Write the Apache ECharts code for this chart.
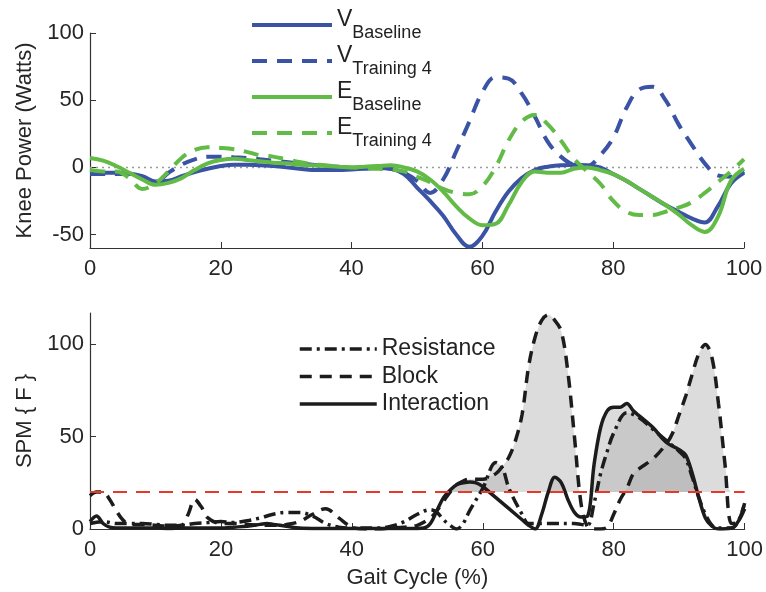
<!DOCTYPE html>
<html><head><meta charset="utf-8">
<script src="https://cdn.jsdelivr.net/npm/echarts@6/dist/echarts.min.js"></script>
<style>html,body{margin:0;padding:0;background:#fff}#c{width:766px;height:592px}</style>
</head><body><div id="c"></div>
<script>
// ---------- data ----------
const gTop = [0,2,4,6,8,10,12,14,16,18,20,22,24,26,28,30,32,34,36,38,40,42,44,46,48,50,52,54,56,58,60,62,64,66,68,70,72,74,76,78,80,82,84,86,88,90,92,94,96,98,100];
const vBaseline = [-4,-4,-4,-4.5,-6.5,-10.5,-10,-6.5,-3.5,-1,1,2,2,1.5,1,0,-1,-2,-2,-2,-1.5,-1,-0.5,-1,-5,-15,-25,-36,-50,-59,-51,-33,-18,-8,-2,0.5,1.5,2,1.5,0,-5,-10,-16,-22,-28,-33,-38,-41,-29,-12,-4];
const vTraining = [-5,-5,-5,-5,-7,-11,-4,2,6,8,8,7.5,7,6,5,4,3,2,1,0.5,0,0,0,-1,-4,-10,-19,-9,12,34,56,67,66,55,38,19,8,2,1,9,22,44,58,60,50,32,17,3,-6,-7,-3];
const eBaseline = [7,5,1,-4,-9,-13,-11.5,-8,-2,3,5.5,6.5,5.5,4.5,3.5,3,2,1.5,1,0.5,0,0.5,1,1.5,0,-3,-9,-18,-29,-38,-43,-42,-28,-11,-3,-4,-4,-1,0,-2,-5,-10,-16,-22,-28,-35,-43,-48,-37,-10,-1];
const eTraining = [-2,-3,-3,-8,-16,-12,-3,7,13,15,14.5,13.5,11.5,9,8,6,4,2.5,1.5,0.5,0,-0.5,-1,-1.5,-3,-7,-11,-16,-19,-20,-14,0,20,34,39,32,20,6.5,-3,-12,-25,-33,-35.5,-35.5,-33,-30,-26,-19,-11,-3,6];

const resX = [0,2,4,6,8,10,12,14,16,18,20,22,24,26,28,30,32,34,36,38,40,44,46,48,50,52,53,54,55,56,57,58,60,62,63,64,66,67,70,74,75,76,77,78,79,80,82,84,86,88,90,91,92,93,94,95,96,98,99,100];
const resY = [3,4,3,3,3,2.5,2,2,3,3.5,4,3.5,4.5,6,8,9,9,7,3,1,0.5,0.5,1.5,4,8,10.5,9,5,2,0,3,10,22,36,33,22,8,3,3,3,2.5,2,14,30,42,52,63,60,54,48,42,38,28,17,8,2,0.5,0.5,4,14];
const blockX = [0,1,2,3,4,5,6,8,10,12,14,15,16,17,18,20,22,24,26,28,30,32,34,36,38,40,42,44,46,48,50,52,53,54,55,56,57,58,60,62,63,64,65,66,67,68,69,70,71,72,73,74,75,76,77,78,79,80,81,82,83,84,86,88,89,90,91,92,93,94,95,96,97,98,99,100];
const blockY = [18,20,20,16,10,5,2.5,2.5,2,1.5,2,8,16,12,6,3,3,2.5,2,2,2.5,4,8,11,6,1,0,0,0.5,1,2,6,10,15,20,24,26,27,27,30,34,39,48,62,88,104,113,116,113,107,85,50,14,1,0,0,1,8,16,22,30,33,38,46,52,62,72,84,95,100,93,68,35,3,4,14];
const interX = [0,1,2,3,4,6,8,10,12,14,16,18,20,22,24,26,27,28,30,32,34,36,40,44,48,50,51,52,53,54,55,56,57,58,59,60,61,62,64,66,67,68,69,70,71,72,73,74,75,76,77,78,79,80,81,82,83,84,86,88,90,91,92,93,94,95,96,98,99,100];
const interY = [4,7,3,1,0.5,0.5,0.5,0.5,0.3,0.5,0.5,0.5,0.5,1,1.5,2.5,3,2.5,1.5,0.5,0.3,0.3,0.3,0.3,0.3,0.3,0.5,3,10,17,21,24,25,25.5,25,23,20,17,11,5,2,0,8,20,28,25,16,9,6.5,7,35,55,64,66,66,68,64,61,55,47,43,40,30,17,6,1.5,0,0.5,4,11];
const threshold = 20;

const xTicks = [0,20,40,60,80,100];
const topYTicks = [-50,0,50,100];
const botYTicks = [0,50,100];

// ---------- styling ----------
const FONT = 'Liberation Sans, Arial, Helvetica, sans-serif';
const BLUE = '#3a53a4', GREEN = '#62bb46', INK = '#1c1c1c', RED = '#e8382c';
const FILL = 'rgba(178,178,178,0.45)';
const zip = (xs, ys) => xs.map((x, i) => [x, ys[i]]);

function xAxisCfg(gi, name) {
  const a = {
    gridIndex: gi, type: 'value', min: 0, max: 100, interval: 20,
    axisLine: {show: true, onZero: false, lineStyle: {color: '#333', width: 1.2}},
    axisTick: {show: true, inside: true, length: 6, customValues: xTicks, lineStyle: {color: '#333'}},
    axisLabel: {fontSize: 22, color: '#262626', fontFamily: FONT, margin: 10, customValues: xTicks},
    splitLine: {show: false}
  };
  if (name) Object.assign(a, {name, nameLocation: 'middle', nameGap: 38,
    nameTextStyle: {fontSize: 22, color: '#262626', fontFamily: FONT}});
  return a;
}
function yAxisCfg(gi, min, max, ticks, name, gap) {
  return {
    gridIndex: gi, type: 'value', min, max,
    axisLine: {show: true, lineStyle: {color: '#333', width: 1.2}},
    axisTick: {show: true, inside: true, length: 6, customValues: ticks, lineStyle: {color: '#333'}},
    axisLabel: {fontSize: 22, color: '#262626', fontFamily: FONT, margin: 6, customValues: ticks},
    splitLine: {show: false},
    name, nameLocation: 'middle', nameGap: gap, nameRotate: 90,
    nameTextStyle: {fontSize: 22, color: '#262626', fontFamily: FONT}
  };
}
function lineS(name, xi, data, color, width, type, smooth) {
  return {name, type: 'line', xAxisIndex: xi, yAxisIndex: xi, data, symbol: 'none', showSymbol: false,
    smooth: smooth, lineStyle: {color, width, type}, itemStyle: {color}, silent: true};
}
function fillS(xs, ys) {
  return {type: 'line', xAxisIndex: 1, yAxisIndex: 1, symbol: 'none', silent: true, smooth: 0.35,
    data: xs.map((x, i) => [x, Math.max(ys[i], threshold)]),
    lineStyle: {width: 0, opacity: 0}, areaStyle: {color: FILL, opacity: 1, origin: threshold}};
}

const series = [
  {type: 'line', xAxisIndex: 0, yAxisIndex: 0, data: [[0, 0], [100, 0]], symbol: 'none', silent: true,
    lineStyle: {color: '#9a9a9a', width: 1.5, type: [2, 4]}},
  lineS('V Baseline', 0, zip(gTop, vBaseline), BLUE, 4, 'solid', 0.4),
  lineS('V Training 4', 0, zip(gTop, vTraining), BLUE, 4, [15, 10], 0.4),
  lineS('E Baseline', 0, zip(gTop, eBaseline), GREEN, 4, 'solid', 0.4),
  lineS('E Training 4', 0, zip(gTop, eTraining), GREEN, 4, [15, 10], 0.4),
  fillS(resX, resY),
  lineS('Resistance', 1, zip(resX, resY), INK, 3.5, [12, 5, 3, 5], 0.35),
  fillS(blockX, blockY),
  lineS('Block', 1, zip(blockX, blockY), INK, 3.5, [12, 8], 0.35),
  fillS(interX, interY),
  lineS('Interaction', 1, zip(interX, interY), INK, 3.5, 'solid', 0.35),
  {type: 'line', xAxisIndex: 1, yAxisIndex: 1, data: [[0, threshold], [100, threshold]], symbol: 'none', silent: true,
    lineStyle: {color: RED, width: 2, type: [14, 9]}}
];

const chart = echarts.init(document.getElementById('c'), null, {renderer: 'canvas'});
chart.setOption({
  animation: false,
  backgroundColor: '#fff',
  grid: [
    {left: 90, right: 22, top: 33, height: 215},
    {left: 90, right: 20, top: 313, height: 216}
  ],
  xAxis: [xAxisCfg(0), xAxisCfg(1, 'Gait Cycle (%)')],
  yAxis: [
    yAxisCfg(0, -60, 100, topYTicks, 'Knee Power (Watts)', 41),
    yAxisCfg(1, 0, 117, botYTicks, 'SPM { F }', 41)
  ],
  legend: [
    {
      data: ['V Baseline', 'V Training 4', 'E Baseline', 'E Training 4'],
      orient: 'vertical', left: 245, top: 3, itemWidth: 80, itemHeight: 14, itemGap: 2,
      selectedMode: false,
      itemStyle: {opacity: 0},
      lineStyle: {width: 4},
      formatter: n => '{m|' + n[0] + '}{s|' + n.slice(2) + '}',
      textStyle: {color: '#222', fontFamily: FONT, rich: {
        m: {fontSize: 23, fontFamily: FONT, color: '#222', verticalAlign: 'top'},
        s: {fontSize: 18, fontFamily: FONT, color: '#222', verticalAlign: 'top', padding: [16, 0, 0, 0]}
      }}
    },
    {
      data: ['Resistance', 'Block', 'Interaction'],
      orient: 'vertical', left: 293, top: 331, itemWidth: 77, itemHeight: 14, itemGap: 1.5,
      selectedMode: false,
      itemStyle: {opacity: 0},
      lineStyle: {width: 3.5},
      textStyle: {color: '#222', fontFamily: FONT, fontSize: 23, lineHeight: 26}
    }
  ],
  series
});
</script></body></html>
